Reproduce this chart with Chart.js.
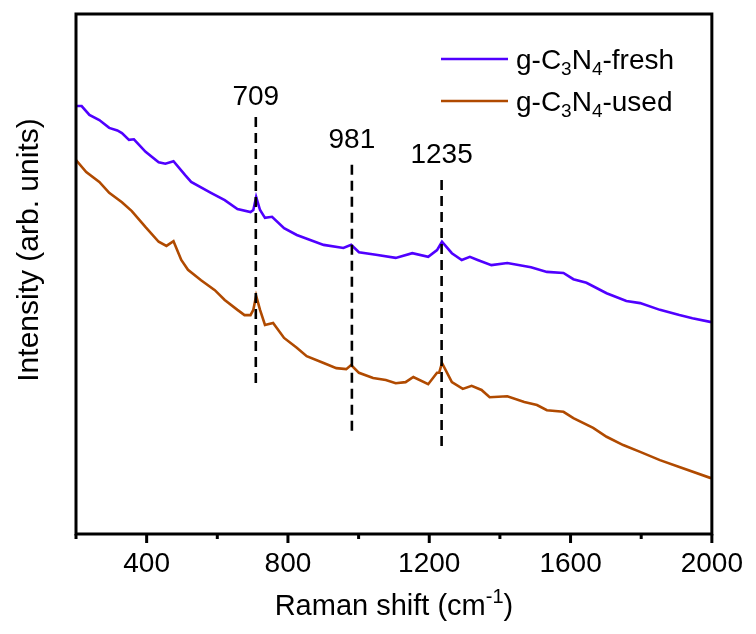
<!DOCTYPE html>
<html>
<head>
<meta charset="utf-8">
<script src="https://cdn.jsdelivr.net/npm/chart.js@4"></script>
<style>
  html, body { margin: 0; padding: 0; background: #fff; }
  #wrap { width: 756px; height: 634px; }
</style>
</head>
<body>
<div id="wrap"><canvas id="ramanChart" width="756" height="634"></canvas></div>
<script>
// Raman shift (cm-1) and intensity (arb. units)
const freshShift = [200, 216, 238, 266, 294, 317, 330, 350, 364, 397, 434, 453, 476, 509, 526, 582, 621, 657, 694, 702, 710, 721, 735, 755, 789, 825, 901, 957, 979, 1001, 1049, 1105, 1152, 1197, 1222, 1236, 1264, 1292, 1315, 1337, 1376, 1421, 1488, 1533, 1580, 1608, 1645, 1702, 1758, 1797, 1853, 1908, 1945, 1995, 2000];
const freshIntensity = [82.3, 82.3, 80.6, 79.6, 78.1, 77.6, 77.1, 75.8, 75.9, 73.5, 71.5, 71.2, 71.7, 69.0, 67.7, 65.6, 64.2, 62.5, 61.9, 62.3, 64.8, 62.3, 60.8, 61.0, 58.8, 57.5, 55.6, 55.0, 55.6, 54.2, 53.7, 53.1, 54.0, 53.3, 54.6, 56.2, 54.0, 52.7, 53.3, 52.7, 51.7, 52.1, 51.3, 50.4, 50.2, 49.0, 48.3, 46.3, 44.8, 44.4, 43.1, 42.1, 41.5, 40.8, 40.8];

const usedShift = [200, 229, 266, 294, 330, 358, 397, 434, 456, 476, 498, 517, 554, 593, 621, 657, 677, 694, 702, 710, 721, 735, 758, 789, 825, 853, 901, 937, 965, 979, 1001, 1041, 1077, 1105, 1133, 1155, 1197, 1222, 1228, 1236, 1264, 1295, 1320, 1348, 1371, 1421, 1469, 1505, 1533, 1580, 1608, 1664, 1702, 1749, 1797, 1853, 1908, 1995, 2000];
const usedIntensity = [71.9, 69.6, 67.7, 65.6, 63.8, 62.1, 59.0, 56.2, 55.4, 56.3, 52.7, 50.8, 48.8, 46.9, 45.0, 43.1, 42.1, 42.1, 43.1, 45.8, 43.1, 40.2, 40.6, 37.7, 35.8, 34.2, 32.9, 31.9, 31.7, 32.5, 31.0, 30.0, 29.6, 29.0, 29.2, 30.2, 28.8, 31.0, 31.0, 32.9, 29.2, 27.9, 28.5, 27.7, 26.3, 26.5, 25.4, 24.8, 23.8, 23.5, 22.3, 20.4, 18.7, 17.1, 15.8, 14.2, 12.9, 10.8, 10.8];

// marked peaks: position, dashed line top/bottom, label height
const peakShift = [709, 981, 1235];
const peakTop = [80.2, 71.0, 68.1];
const peakBottom = [28.1, 18.8, 16.0];
const peakLabelY = [84.0, 75.8, 72.9];

const xTicks = [200, 400, 600, 800, 1000, 1200, 1400, 1600, 1800, 2000];

const FONT = '"Liberation Sans", Arial, sans-serif';
const BLUE = '#5000ff';
const ORANGE = '#b04a00';

function toPoints(xs, ys) {
  return xs.map((x, i) => ({ x: x, y: ys[i] }));
}

const datasets = [];
peakShift.forEach((p, i) => {
  datasets.push({
    data: [{ x: p, y: peakTop[i] }, { x: p, y: peakBottom[i] }],
    borderColor: '#000',
    borderWidth: 2.6,
    borderDash: [10, 6],
    pointRadius: 0,
    order: 0
  });
});
datasets.push({
  label: 'fresh',
  data: toPoints(freshShift, freshIntensity),
  borderColor: BLUE,
  borderWidth: 2.6,
  pointRadius: 0,
  tension: 0,
  order: 1
});
datasets.push({
  label: 'used',
  data: toPoints(usedShift, usedIntensity),
  borderColor: ORANGE,
  borderWidth: 2.6,
  pointRadius: 0,
  tension: 0,
  order: 1
});

// draws text with sub/superscripts: parts = [[text, shift]], shift 1 = sub, -1 = sup
function drawRich(ctx, parts, x, y, size, align) {
  const small = Math.round(size * 0.68);
  let total = 0;
  parts.forEach(p => {
    ctx.font = (p[1] ? small : size) + 'px ' + FONT;
    total += ctx.measureText(p[0]).width;
  });
  let cx = align === 'center' ? x - total / 2 : x;
  ctx.textAlign = 'left';
  ctx.textBaseline = 'alphabetic';
  parts.forEach(p => {
    ctx.font = (p[1] ? small : size) + 'px ' + FONT;
    let dy = 0;
    if (p[1] === 1) dy = size * 0.22;
    if (p[1] === -1) dy = -size * 0.42;
    ctx.fillText(p[0], cx, y + dy);
    cx += ctx.measureText(p[0]).width;
  });
}

const decorPlugin = {
  id: 'decor',
  afterDraw(chart) {
    const ctx = chart.ctx;
    const area = chart.chartArea;
    const xs = chart.scales.x;
    const ys = chart.scales.y;
    ctx.save();

    // frame
    ctx.strokeStyle = '#000';
    ctx.lineWidth = 3;
    ctx.strokeRect(area.left, area.top, area.right - area.left, area.bottom - area.top);

    // x ticks, major every 400
    xTicks.forEach(v => {
      const px = xs.getPixelForValue(v);
      const len = (v % 400 === 0) ? 9 : 5;
      ctx.beginPath();
      ctx.moveTo(px, area.bottom);
      ctx.lineTo(px, area.bottom + len);
      ctx.stroke();
    });

    ctx.fillStyle = '#000';
    // peak labels
    ctx.font = '28px ' + FONT;
    ctx.textAlign = 'center';
    ctx.textBaseline = 'middle';
    peakShift.forEach((p, i) => {
      ctx.fillText(String(p), xs.getPixelForValue(p), ys.getPixelForValue(peakLabelY[i]));
    });

    // legend
    const legend = [
      { color: BLUE, parts: [['g-C', 0], ['3', 1], ['N', 0], ['4', 1], ['-fresh', 0]] },
      { color: ORANGE, parts: [['g-C', 0], ['3', 1], ['N', 0], ['4', 1], ['-used', 0]] }
    ];
    legend.forEach((item, i) => {
      const ly = 59 + i * 42;
      ctx.strokeStyle = item.color;
      ctx.lineWidth = 2.6;
      ctx.beginPath();
      ctx.moveTo(441, ly);
      ctx.lineTo(508, ly);
      ctx.stroke();
      ctx.fillStyle = '#000';
      drawRich(ctx, item.parts, 516, ly + 10, 28, 'left');
    });

    // axis titles
    drawRich(ctx, [['Raman shift (cm', 0], ['-1', -1], [')', 0]], (area.left + area.right) / 2, 615, 29, 'center');
    ctx.save();
    ctx.translate(38, 250);
    ctx.rotate(-Math.PI / 2);
    drawRich(ctx, [['Intensity (arb. units)', 0]], 0, 0, 30, 'center');
    ctx.restore();

    ctx.restore();
  }
};

new Chart(document.getElementById('ramanChart'), {
  type: 'line',
  data: { datasets: datasets },
  plugins: [decorPlugin],
  options: {
    responsive: false,
    animation: false,
    layout: { padding: { left: 0, right: 37, top: 14, bottom: 0 } },
    plugins: {
      legend: { display: false },
      tooltip: { enabled: false }
    },
    scales: {
      x: {
        type: 'linear',
        min: 200,
        max: 2000,
        afterFit: s => { s.height = 100; },
        afterBuildTicks: s => { s.ticks = xTicks.map(v => ({ value: v })); },
        grid: { display: false, drawTicks: false },
        border: { display: false },
        ticks: {
          autoSkip: false,
          maxRotation: 0,
          padding: 13,
          color: '#000',
          font: { family: FONT, size: 28 },
          callback: v => (v % 400 === 0 ? String(v) : '')
        }
      },
      y: {
        min: 0,
        max: 100,
        afterFit: s => { s.width = 76; },
        grid: { display: false, drawTicks: false },
        border: { display: false },
        ticks: { display: false }
      }
    }
  }
});
</script>
</body>
</html>
